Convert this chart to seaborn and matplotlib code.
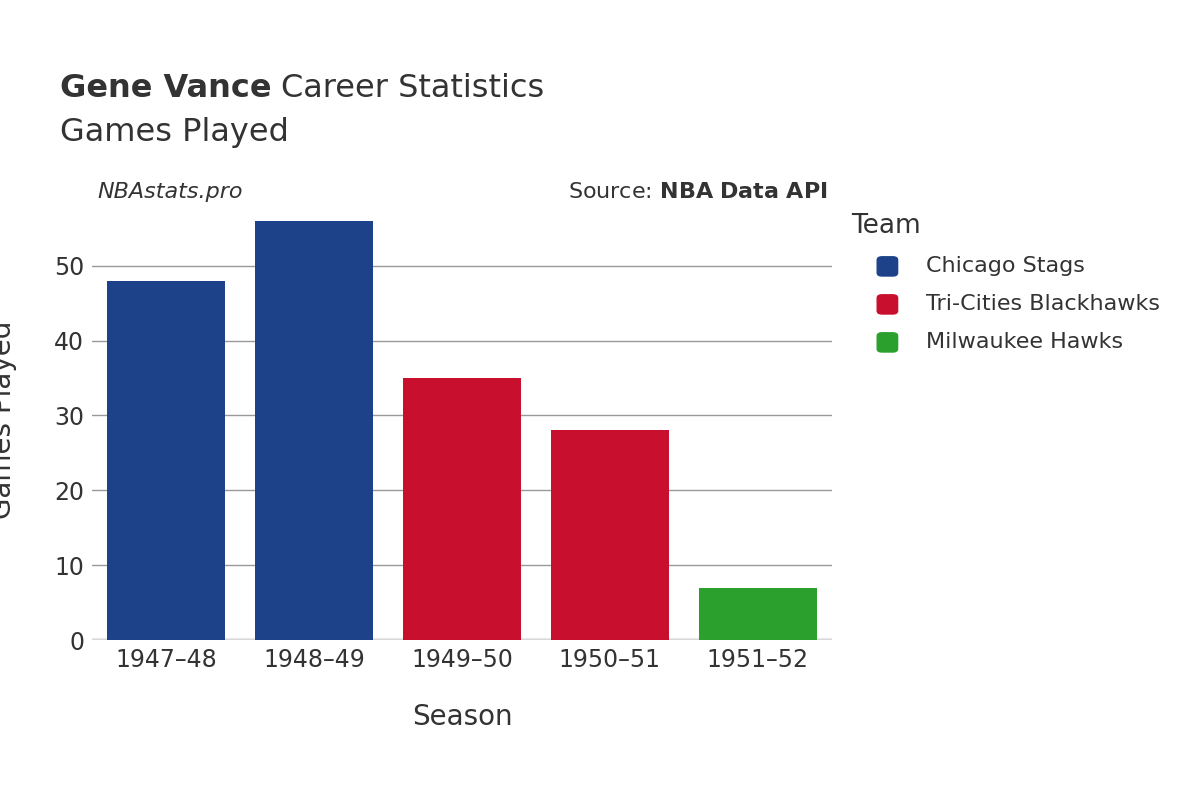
import pandas as pd
import seaborn as sns
import matplotlib.pyplot as plt
from matplotlib.patches import FancyBboxPatch

plt.rcParams["font.family"] = "DejaVu Sans"

seasons = ["1947–48", "1948–49", "1949–50", "1950–51", "1951–52"]
games = [48, 56, 35, 28, 7]
teams = ["Chicago Stags", "Chicago Stags", "Tri-Cities Blackhawks", "Tri-Cities Blackhawks", "Milwaukee Hawks"]
team_order = ["Chicago Stags", "Tri-Cities Blackhawks", "Milwaukee Hawks"]
team_colors = ["#1D428A", "#C8102E", "#2CA02C"]

df = pd.DataFrame({"season": seasons, "games": games, "team": teams})

fig = plt.figure(figsize=(12, 8), dpi=100)
ax = fig.add_axes([0.077, 0.2, 0.616, 0.551])
sns.barplot(data=df, x="season", y="games", hue="team", hue_order=team_order,
            palette=team_colors, dodge=False, width=0.8, ax=ax, legend=False,
            saturation=1)

ax.set_ylim(0, 58.9)
ax.set_yticks([0, 10, 20, 30, 40, 50])
ax.grid(axis="y", color="#999999", linewidth=1)
ax.set_axisbelow(True)
for s in ax.spines.values():
    s.set_visible(False)
ax.axhline(0, color="#e8e8e8", linewidth=3, zorder=0.5)
ax.tick_params(length=0, labelsize=17, colors="#333333", pad=6)
ax.set_xlabel("Season", fontsize=20, color="#333333", labelpad=22)
ax.set_ylabel("Games Played", fontsize=20, color="#333333")
ax.yaxis.set_label_coords(-0.102, 0.5)

t1 = fig.text(0.05, 0.889, "Gene Vance", fontsize=23, fontweight="bold", color="#333333", va="center")
fig.canvas.draw()
bb = t1.get_window_extent().transformed(fig.transFigure.inverted())
fig.text(bb.x1 + 0.008, 0.889, "Career Statistics", fontsize=23, color="#333333", va="center")
fig.text(0.05, 0.834, "Games Played", fontsize=23, color="#333333", va="center")
fig.text(0.081, 0.76, "NBAstats.pro", fontsize=16, style="italic", color="#333333", va="center")
fig.text(0.69, 0.76, "Source: $\\bf{NBA\\ Data\\ API}$", fontsize=16, color="#333333", va="center", ha="right")

# legend
fig.text(0.709, 0.717, "Team", fontsize=19, color="#333333", va="center")
for i, (t, c) in enumerate(zip(team_order, team_colors)):
    y = 0.667 - i * 0.0475
    fig.patches.append(FancyBboxPatch((0.731, y - 0.012), 0.017, 0.024,
                                      boxstyle="round,pad=0,rounding_size=0.004",
                                      transform=fig.transFigure, color=c, figure=fig))
    fig.text(0.772, y, t, fontsize=16, color="#333333", va="center")

fig.savefig("out.png", dpi=100)
